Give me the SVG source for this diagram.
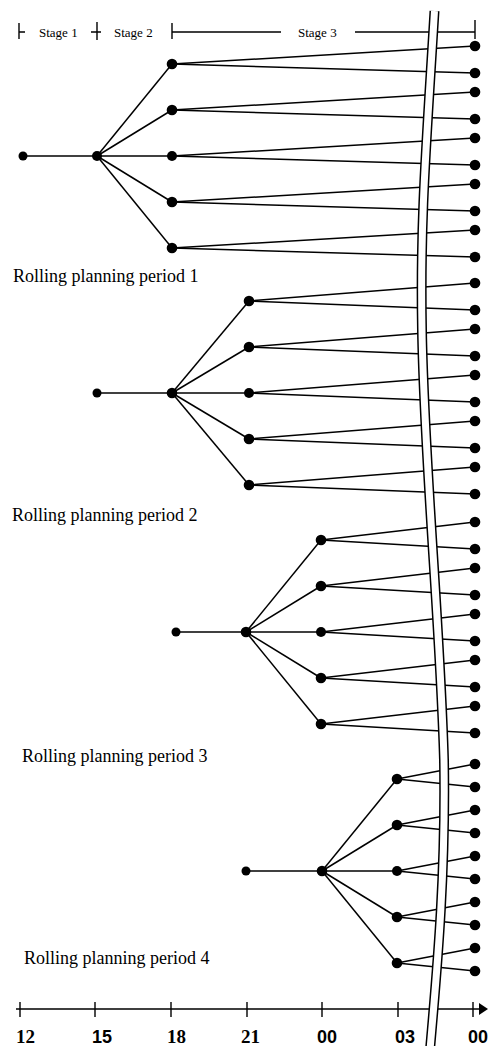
<svg xmlns="http://www.w3.org/2000/svg" width="489" height="1046" viewBox="0 0 489 1046">
<style>
.c line{stroke:#000;stroke-width:1.5}
.d{fill:#000}
.t{font-family:"Liberation Serif","Times New Roman",serif;fill:#000}
.lbl{font-size:18px}
.stg{font-size:13px}
.ax{font-size:19px;font-weight:bold}
.axs{font-family:"Liberation Sans",Arial,sans-serif;font-size:18px;font-weight:bold;fill:#000}
.k{stroke:#000;stroke-width:1.4;fill:none}
</style>
<rect width="489" height="1046" fill="#fff"/>
<g id="connectors" class="c">
<line x1="23" y1="156" x2="97" y2="156"/>
<line x1="97" y1="156" x2="172" y2="64"/><line x1="97" y1="156" x2="172" y2="110"/><line x1="97" y1="156" x2="172" y2="156"/><line x1="97" y1="156" x2="172" y2="202"/><line x1="97" y1="156" x2="172" y2="248"/>
<line x1="172" y1="64" x2="475" y2="46"/><line x1="172" y1="64" x2="475" y2="73"/>
<line x1="172" y1="110" x2="475" y2="92"/><line x1="172" y1="110" x2="475" y2="119"/>
<line x1="172" y1="156" x2="475" y2="138"/><line x1="172" y1="156" x2="475" y2="165"/>
<line x1="172" y1="202" x2="475" y2="184"/><line x1="172" y1="202" x2="475" y2="211"/>
<line x1="172" y1="248" x2="475" y2="230"/><line x1="172" y1="248" x2="475" y2="257"/>
<line x1="97" y1="393" x2="172" y2="393"/>
<line x1="172" y1="393" x2="249" y2="301"/><line x1="172" y1="393" x2="249" y2="347"/><line x1="172" y1="393" x2="249" y2="393"/><line x1="172" y1="393" x2="249" y2="439"/><line x1="172" y1="393" x2="249" y2="485"/>
<line x1="249" y1="301" x2="475" y2="283"/><line x1="249" y1="301" x2="475" y2="310"/>
<line x1="249" y1="347" x2="475" y2="329"/><line x1="249" y1="347" x2="475" y2="356"/>
<line x1="249" y1="393" x2="475" y2="375"/><line x1="249" y1="393" x2="475" y2="402"/>
<line x1="249" y1="439" x2="475" y2="421"/><line x1="249" y1="439" x2="475" y2="448"/>
<line x1="249" y1="485" x2="475" y2="467"/><line x1="249" y1="485" x2="475" y2="494"/>
<line x1="176" y1="632" x2="246" y2="632"/>
<line x1="246" y1="632" x2="321" y2="540"/><line x1="246" y1="632" x2="321" y2="586"/><line x1="246" y1="632" x2="321" y2="632"/><line x1="246" y1="632" x2="321" y2="678"/><line x1="246" y1="632" x2="321" y2="724"/>
<line x1="321" y1="540" x2="475" y2="522"/><line x1="321" y1="540" x2="475" y2="549"/>
<line x1="321" y1="586" x2="475" y2="568"/><line x1="321" y1="586" x2="475" y2="595"/>
<line x1="321" y1="632" x2="475" y2="614"/><line x1="321" y1="632" x2="475" y2="641"/>
<line x1="321" y1="678" x2="475" y2="660"/><line x1="321" y1="678" x2="475" y2="687"/>
<line x1="321" y1="724" x2="475" y2="706"/><line x1="321" y1="724" x2="475" y2="733"/>
<line x1="246" y1="871" x2="322" y2="871"/>
<line x1="322" y1="871" x2="397" y2="779"/><line x1="322" y1="871" x2="397" y2="825"/><line x1="322" y1="871" x2="397" y2="871"/><line x1="322" y1="871" x2="397" y2="917"/><line x1="322" y1="871" x2="397" y2="963"/>
<line x1="397" y1="779" x2="475" y2="764"/><line x1="397" y1="779" x2="475" y2="787"/>
<line x1="397" y1="825" x2="475" y2="810"/><line x1="397" y1="825" x2="475" y2="833"/>
<line x1="397" y1="871" x2="475" y2="856"/><line x1="397" y1="871" x2="475" y2="879"/>
<line x1="397" y1="917" x2="475" y2="902"/><line x1="397" y1="917" x2="475" y2="925"/>
<line x1="397" y1="963" x2="475" y2="948"/><line x1="397" y1="963" x2="475" y2="971"/>
</g>
<g id="stage-header">
<path class="k" d="M19 23V39M19 32H25M97 22V40M91 32H101M172 23V39M172 32H281M355 32H475M475 20V39"/>
<text class="t stg" x="39" y="37">Stage 1</text>
<text class="t stg" x="114" y="37">Stage 2</text>
<text class="t stg" x="298" y="37">Stage 3</text>
</g>
<g id="time-axis">
<path class="k" d="M16 1009H481M20 1002V1017M95 1002V1017M171 1002V1017M247 1002V1017M322 1002V1017M398 1002V1017M473 1002V1017"/>
<polygon points="479,1003 488,1009 479,1015" fill="#000"/>
<text class="t ax" x="16" y="1043">12</text>
<text class="axs" x="92" y="1043">15</text>
<text class="t ax" x="167" y="1043">18</text>
<text class="t ax" x="241" y="1043">21</text>
<text class="axs" x="317" y="1043">00</text>
<text class="axs" x="395" y="1043">03</text>
<text class="axs" x="468" y="1043">00</text>
</g>
<g id="break">
<path d="M434.5 11 C426 150 420 220 422 330 C424 460 440 620 444 760 C446 880 436 980 430 1050" fill="none" stroke="#000" stroke-width="10"/>
<path d="M434.5 11 C426 150 420 220 422 330 C424 460 440 620 444 760 C446 880 436 980 430 1050" fill="none" stroke="#fff" stroke-width="7"/>
</g>
<g id="labels">
<text id="label-p1" class="t lbl" x="13" y="282">Rolling planning period 1</text>
<text id="label-p2" class="t lbl" x="12" y="521">Rolling planning period 2</text>
<text id="label-p3" class="t lbl" x="22" y="762">Rolling planning period 3</text>
<text id="label-p4" class="t lbl" x="24" y="964">Rolling planning period 4</text>
</g>
<g id="p1-root"><circle class="d" cx="23" cy="156" r="4.5"/></g>
<g id="p1-s1"><circle class="d" cx="97" cy="156" r="5"/></g>
<g id="p1-s2a"><circle class="d" cx="172" cy="64" r="5.3"/></g>
<g id="p1-s2b"><circle class="d" cx="172" cy="110" r="5.3"/></g>
<g id="p1-s2c"><circle class="d" cx="172" cy="156" r="5"/></g>
<g id="p1-s2d"><circle class="d" cx="172" cy="202" r="5.3"/></g>
<g id="p1-s2e"><circle class="d" cx="172" cy="248" r="5.3"/></g>
<g id="p2-root"><circle class="d" cx="97" cy="393" r="4.5"/></g>
<g id="p2-s1"><circle class="d" cx="172" cy="393" r="5.3"/></g>
<g id="p2-s2a"><circle class="d" cx="249" cy="301" r="5.3"/></g>
<g id="p2-s2b"><circle class="d" cx="249" cy="347" r="5.3"/></g>
<g id="p2-s2c"><circle class="d" cx="249" cy="393" r="5"/></g>
<g id="p2-s2d"><circle class="d" cx="249" cy="439" r="5.3"/></g>
<g id="p2-s2e"><circle class="d" cx="249" cy="485" r="5.3"/></g>
<g id="p3-root"><circle class="d" cx="176" cy="632" r="4.5"/></g>
<g id="p3-s1"><circle class="d" cx="246" cy="632" r="5.3"/></g>
<g id="p3-s2a"><circle class="d" cx="321" cy="540" r="5.3"/></g>
<g id="p3-s2b"><circle class="d" cx="321" cy="586" r="5.3"/></g>
<g id="p3-s2c"><circle class="d" cx="321" cy="632" r="5"/></g>
<g id="p3-s2d"><circle class="d" cx="321" cy="678" r="5.3"/></g>
<g id="p3-s2e"><circle class="d" cx="321" cy="724" r="5.3"/></g>
<g id="p4-root"><circle class="d" cx="246" cy="871" r="4.5"/></g>
<g id="p4-s1"><circle class="d" cx="322" cy="871" r="5.3"/></g>
<g id="p4-s2a"><circle class="d" cx="397" cy="779" r="5.3"/></g>
<g id="p4-s2b"><circle class="d" cx="397" cy="825" r="5.3"/></g>
<g id="p4-s2c"><circle class="d" cx="397" cy="871" r="5"/></g>
<g id="p4-s2d"><circle class="d" cx="397" cy="917" r="5.3"/></g>
<g id="p4-s2e"><circle class="d" cx="397" cy="963" r="5.3"/></g>
<g id="leaf-01"><circle class="d" cx="475" cy="46" r="5.3"/></g>
<g id="leaf-02"><circle class="d" cx="475" cy="73" r="5.3"/></g>
<g id="leaf-03"><circle class="d" cx="475" cy="92" r="5.3"/></g>
<g id="leaf-04"><circle class="d" cx="475" cy="119" r="5.3"/></g>
<g id="leaf-05"><circle class="d" cx="475" cy="138" r="5.3"/></g>
<g id="leaf-06"><circle class="d" cx="475" cy="165" r="5.3"/></g>
<g id="leaf-07"><circle class="d" cx="475" cy="184" r="5.3"/></g>
<g id="leaf-08"><circle class="d" cx="475" cy="211" r="5.3"/></g>
<g id="leaf-09"><circle class="d" cx="475" cy="230" r="5.3"/></g>
<g id="leaf-10"><circle class="d" cx="475" cy="257" r="5.3"/></g>
<g id="leaf-11"><circle class="d" cx="475" cy="283" r="5.3"/></g>
<g id="leaf-12"><circle class="d" cx="475" cy="310" r="5.3"/></g>
<g id="leaf-13"><circle class="d" cx="475" cy="329" r="5.3"/></g>
<g id="leaf-14"><circle class="d" cx="475" cy="356" r="5.3"/></g>
<g id="leaf-15"><circle class="d" cx="475" cy="375" r="5.3"/></g>
<g id="leaf-16"><circle class="d" cx="475" cy="402" r="5.3"/></g>
<g id="leaf-17"><circle class="d" cx="475" cy="421" r="5.3"/></g>
<g id="leaf-18"><circle class="d" cx="475" cy="448" r="5.3"/></g>
<g id="leaf-19"><circle class="d" cx="475" cy="467" r="5.3"/></g>
<g id="leaf-20"><circle class="d" cx="475" cy="494" r="5.3"/></g>
<g id="leaf-21"><circle class="d" cx="475" cy="522" r="5.3"/></g>
<g id="leaf-22"><circle class="d" cx="475" cy="549" r="5.3"/></g>
<g id="leaf-23"><circle class="d" cx="475" cy="568" r="5.3"/></g>
<g id="leaf-24"><circle class="d" cx="475" cy="595" r="5.3"/></g>
<g id="leaf-25"><circle class="d" cx="475" cy="614" r="5.3"/></g>
<g id="leaf-26"><circle class="d" cx="475" cy="641" r="5.3"/></g>
<g id="leaf-27"><circle class="d" cx="475" cy="660" r="5.3"/></g>
<g id="leaf-28"><circle class="d" cx="475" cy="687" r="5.3"/></g>
<g id="leaf-29"><circle class="d" cx="475" cy="706" r="5.3"/></g>
<g id="leaf-30"><circle class="d" cx="475" cy="733" r="5.3"/></g>
<g id="leaf-31"><circle class="d" cx="475" cy="764" r="5.3"/></g>
<g id="leaf-32"><circle class="d" cx="475" cy="787" r="5.3"/></g>
<g id="leaf-33"><circle class="d" cx="475" cy="810" r="5.3"/></g>
<g id="leaf-34"><circle class="d" cx="475" cy="833" r="5.3"/></g>
<g id="leaf-35"><circle class="d" cx="475" cy="856" r="5.3"/></g>
<g id="leaf-36"><circle class="d" cx="475" cy="879" r="5.3"/></g>
<g id="leaf-37"><circle class="d" cx="475" cy="902" r="5.3"/></g>
<g id="leaf-38"><circle class="d" cx="475" cy="925" r="5.3"/></g>
<g id="leaf-39"><circle class="d" cx="475" cy="948" r="5.3"/></g>
<g id="leaf-40"><circle class="d" cx="475" cy="971" r="5.3"/></g>
</svg>
